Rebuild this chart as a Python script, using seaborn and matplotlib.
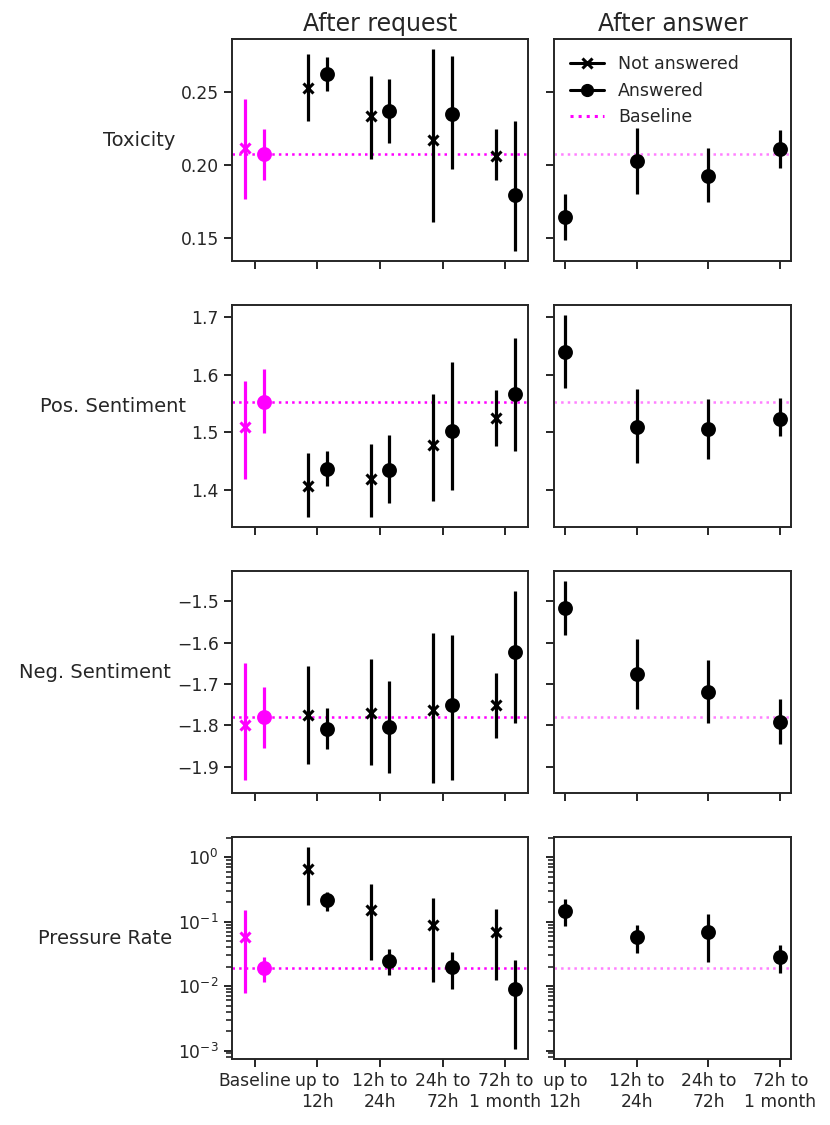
import numpy as np
import pandas as pd
import matplotlib
matplotlib.use("Agg")
import matplotlib.pyplot as plt
import matplotlib.ticker as mticker
import seaborn as sns
from matplotlib.lines import Line2D

# ---------------- data ----------------
metrics = ["Toxicity", "Pos. Sentiment", "Neg. Sentiment", "Pressure Rate"]
request_bins = ["Baseline", "up to\n12h", "12h to\n24h", "24h to\n72h", "72h to\n1 month"]
answer_bins = ["up to\n12h", "12h to\n24h", "24h to\n72h", "72h to\n1 month"]
col_titles = ["After request", "After answer"]
legend_labels = ["Not answered", "Answered", "Baseline"]

# Toxicity
tox_na = [0.2114, 0.2530, 0.2336, 0.2170, 0.2061]
tox_na_lo = [0.1770, 0.2302, 0.2045, 0.1614, 0.1898]
tox_na_hi = [0.2450, 0.2757, 0.2611, 0.2790, 0.2245]
tox_a = [0.2075, 0.2620, 0.2373, 0.2348, 0.1798]
tox_a_lo = [0.1898, 0.2509, 0.2148, 0.1977, 0.1414]
tox_a_hi = [0.2250, 0.2739, 0.2586, 0.2745, 0.2302]
tox_ans = [0.1643, 0.2027, 0.1927, 0.2111]
tox_ans_lo = [0.1489, 0.1802, 0.1745, 0.1982]
tox_ans_hi = [0.1800, 0.2254, 0.2114, 0.2243]

# Positive sentiment
pos_na = [1.5097, 1.4067, 1.4193, 1.4777, 1.5240]
pos_na_lo = [1.4188, 1.3535, 1.3540, 1.3810, 1.4760]
pos_na_hi = [1.5887, 1.4640, 1.4806, 1.5664, 1.5726]
pos_a = [1.5526, 1.4360, 1.4348, 1.5029, 1.5658]
pos_a_lo = [1.4983, 1.4067, 1.3776, 1.4010, 1.4674]
pos_a_hi = [1.6100, 1.4685, 1.4949, 1.6218, 1.6636]
pos_ans = [1.6390, 1.5097, 1.5051, 1.5235]
pos_ans_lo = [1.5770, 1.4474, 1.4542, 1.4931]
pos_ans_hi = [1.7025, 1.5755, 1.5578, 1.5601]

# Negative sentiment
neg_na = [-1.7990, -1.7745, -1.7705, -1.7630, -1.7514]
neg_na_lo = [-1.9330, -1.8930, -1.8950, -1.9390, -1.8310]
neg_na_hi = [-1.6500, -1.6565, -1.6410, -1.5770, -1.6730]
neg_a = [-1.7810, -1.8090, -1.8030, -1.7506, -1.6230]
neg_a_lo = [-1.8550, -1.8570, -1.9150, -1.9330, -1.7940]
neg_a_hi = [-1.7080, -1.7580, -1.6920, -1.5820, -1.4760]
neg_ans = [-1.5170, -1.6765, -1.7195, -1.7910]
neg_ans_lo = [-1.5830, -1.7610, -1.7940, -1.8460]
neg_ans_hi = [-1.4525, -1.5920, -1.6430, -1.7370]

# Pressure rate
pr_na = [0.0582, 0.6530, 0.1537, 0.0880, 0.0703]
pr_na_lo = [0.0079, 0.1836, 0.0251, 0.01175, 0.0126]
pr_na_hi = [0.1500, 1.4300, 0.3880, 0.2300, 0.1570]
pr_a = [0.0193, 0.2140, 0.0248, 0.0200, 0.00895]
pr_a_lo = [0.01175, 0.1480, 0.0149, 0.00916, 0.00106]
pr_a_hi = [0.0282, 0.2950, 0.0380, 0.0337, 0.0251]
pr_ans = [0.1450, 0.0582, 0.0687, 0.0282]
pr_ans_lo = [0.0870, 0.0322, 0.0236, 0.0162]
pr_ans_hi = [0.2270, 0.0900, 0.1300, 0.0428]

rows = [
    (tox_na, tox_na_lo, tox_na_hi, tox_a, tox_a_lo, tox_a_hi, tox_ans, tox_ans_lo, tox_ans_hi),
    (pos_na, pos_na_lo, pos_na_hi, pos_a, pos_a_lo, pos_a_hi, pos_ans, pos_ans_lo, pos_ans_hi),
    (neg_na, neg_na_lo, neg_na_hi, neg_a, neg_a_lo, neg_a_hi, neg_ans, neg_ans_lo, neg_ans_hi),
    (pr_na, pr_na_lo, pr_na_hi, pr_a, pr_a_lo, pr_a_hi, pr_ans, pr_ans_lo, pr_ans_hi),
]

# ---------------- style ----------------
sns.set_theme(style="ticks", context="notebook")
plt.rcParams["font.family"] = ["DejaVu Sans"]
plt.rcParams["xtick.labelsize"] = 12.3
plt.rcParams["ytick.labelsize"] = 12.3
plt.rcParams["axes.linewidth"] = 1.4
plt.rcParams["xtick.major.width"] = 1.4
plt.rcParams["ytick.major.width"] = 1.4
plt.rcParams["xtick.major.size"] = 6
plt.rcParams["ytick.major.size"] = 6
plt.rcParams["ytick.minor.size"] = 4
plt.rcParams["ytick.minor.width"] = 1.2

MAG = "#ff00ff"
BLK = "black"
OFF = 0.15
ELW = 2.3

fig, axes = plt.subplots(4, 2, figsize=(8.3, 11.25), dpi=100,
                         sharex="col", sharey="row",
                         gridspec_kw=dict(width_ratios=[5, 4]))
fig.subplots_adjust(left=0.2795, right=0.953, top=0.965, bottom=0.0587,
                    wspace=0.0976, hspace=0.2)


def draw(ax, xs, mean, lo, hi, marker, colors):
    df = pd.DataFrame({"x": xs, "m": mean, "lo": lo, "hi": hi, "c": colors})
    for _, r in df.iterrows():
        ms = 8.5 if marker == "o" else 7.5
        ax.errorbar(r["x"], r["m"], yerr=[[r["m"] - r["lo"]], [r["hi"] - r["m"]]],
                    fmt=marker, color=r["c"], ecolor=r["c"], elinewidth=ELW,
                    capsize=0, ms=ms, mew=2.2, zorder=3)


for i, row in enumerate(rows):
    na, na_lo, na_hi, a, a_lo, a_hi, ans, ans_lo, ans_hi = row
    axl, axr = axes[i]
    pos_req = np.arange(len(request_bins))
    cols = [MAG] + [BLK] * (len(request_bins) - 1)
    draw(axl, pos_req - OFF, na, na_lo, na_hi, "x", cols)
    draw(axl, pos_req + OFF, a, a_lo, a_hi, "o", cols)
    pos_ans = np.arange(len(answer_bins))
    draw(axr, pos_ans, ans, ans_lo, ans_hi, "o", [BLK] * len(answer_bins))
    base = a[0]
    axl.axhline(base, color=MAG, ls=":", lw=1.8, zorder=2)
    axr.axhline(base, color=MAG, ls=":", lw=1.8, alpha=0.5, zorder=2)
    axl.set_ylabel(metrics[i], rotation=0, ha="right", fontsize=14)
    if metrics[i] == "Pressure Rate":
        axl.set_yscale("log")
        lo_all = np.log10(min(na_lo + a_lo + ans_lo))
        hi_all = np.log10(max(na_hi + a_hi + ans_hi))
        pad = 0.05 * (hi_all - lo_all)
        axl.set_ylim(10 ** (lo_all - pad), 10 ** (hi_all + pad))
        axl.yaxis.set_major_locator(mticker.LogLocator(base=10, numticks=20))
        axl.yaxis.set_minor_locator(mticker.LogLocator(base=10, subs=np.arange(2, 10),
                                                       numticks=100))
        axl.yaxis.set_minor_formatter(mticker.NullFormatter())
    for ax in (axl, axr):
        for s in ax.spines.values():
            s.set_visible(True)

axes[-1, 0].set_xticks(np.arange(len(request_bins)))
axes[-1, 0].set_xticklabels(request_bins)
axes[-1, 1].set_xticks(np.arange(len(answer_bins)))
axes[-1, 1].set_xticklabels(answer_bins)

axes[0, 0].set_title(col_titles[0], fontsize=17)
axes[0, 1].set_title(col_titles[1], fontsize=17)

handles = [
    Line2D([], [], color=BLK, marker="x", lw=2.2, ms=7.5, mew=2.2),
    Line2D([], [], color=BLK, marker="o", lw=2.2, ms=8.5),
    Line2D([], [], color=MAG, ls=":", lw=2.2),
]
axes[0, 1].legend(handles, legend_labels, loc="upper left", frameon=False,
                  fontsize=12.5)

fig.savefig("out.png", dpi=100)
